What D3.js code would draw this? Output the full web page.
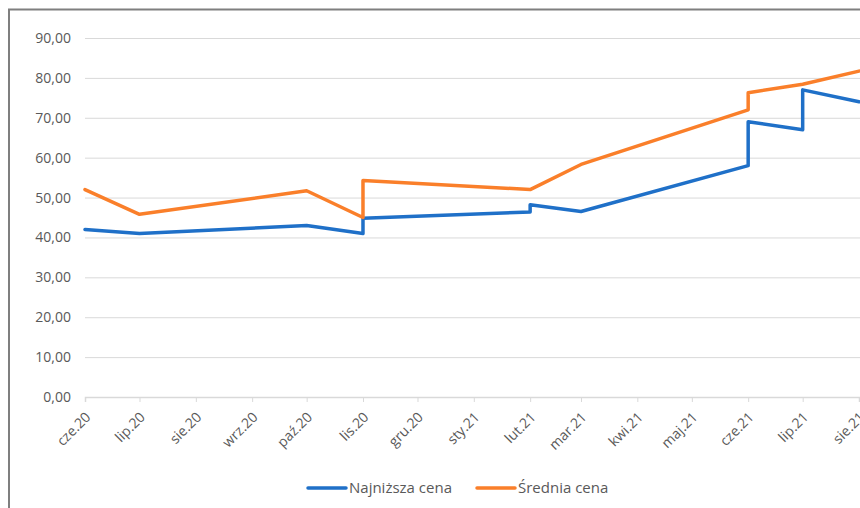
<!DOCTYPE html>
<html>
<head>
<meta charset="utf-8">
<script src="https://cdn.jsdelivr.net/npm/d3@7"></script>
<style>
    body { margin: 0; background: #fff; }
    text { font-family: "Open Sans", sans-serif; }
</style>
</head>
<body>
<div id="chart"></div>
<script>

// DATA
// ================================================================================== //

const monthLabels = ["cze.20", "lip.20", "sie.20", "wrz.20", "paź.20", "lis.20", "gru.20",
    "sty.21", "lut.21", "mar.21", "kwi.21", "maj.21", "cze.21", "lip.21", "sie.21"];
const monthDates = ["2020-06-01", "2020-07-01", "2020-08-01", "2020-09-01", "2020-10-01",
    "2020-11-01", "2020-12-01", "2021-01-01", "2021-02-01", "2021-03-01", "2021-04-01",
    "2021-05-01", "2021-06-01", "2021-07-01", "2021-08-01"];

// Najniższa cena (duplicate dates give the vertical jumps)
const lowDates = ["2020-06-01", "2020-07-01", "2020-10-01", "2020-11-01", "2020-11-01",
    "2021-02-01", "2021-02-01", "2021-03-01", "2021-06-01", "2021-06-01",
    "2021-07-01", "2021-07-01", "2021-08-01"];
const lowValues = [42, 41, 43, 41, 44.8, 46.4, 48.2, 46.5, 58, 69, 67, 77, 74];

// Średnia cena
const avgDates = ["2020-06-01", "2020-07-01", "2020-10-01", "2020-11-01", "2020-11-01",
    "2021-02-01", "2021-03-01", "2021-06-01", "2021-06-01", "2021-07-01", "2021-08-01"];
const avgValues = [52, 45.8, 51.7, 45, 54.3, 52, 58.3, 72, 76.3, 78.4, 81.7];

const yTicks = [0, 10, 20, 30, 40, 50, 60, 70, 80, 90];

const seriesNames = ["Najniższa cena", "Średnia cena"];
const seriesColors = ["#1f70c8", "#fa7f2a"];

// ================================================================================== //

const parse = d3.timeParse("%Y-%m-%d");
const width = 860;
const height = 508;
const margin = { top: 38, right: 1, bottom: 111, left: 85 };

const svg = d3.select("#chart")
    .append("svg")
    .attr("width", width)
    .attr("height", height);

// chart frame (only left and top edges are inside the picture)
svg.append("path")
    .attr("d", `M9,${height} V9.5 H${width}`)
    .attr("fill", "none")
    .attr("stroke", "#7f7f7f")
    .attr("stroke-width", 2);

const x = d3.scaleTime()
    .domain([parse(monthDates[0]), parse(monthDates[monthDates.length - 1])])
    .range([margin.left, width - margin.right]);

const y = d3.scaleLinear()
    .domain([0, 90])
    .range([height - margin.bottom, margin.top]);

const fmt = v => d3.format(".2f")(v).replace(".", ",");

// gridlines + y labels
const yAxis = svg.append("g")
    .attr("transform", `translate(${margin.left},0)`)
    .call(d3.axisLeft(y)
        .tickValues(yTicks)
        .tickSize(-(width - margin.left))
        .tickPadding(14)
        .tickFormat(fmt));
yAxis.select(".domain").remove();
yAxis.selectAll(".tick line").attr("stroke", "#d9d9d9");
yAxis.selectAll("text")
    .attr("fill", "#595959")
    .attr("font-size", 14)
    .attr("font-family", "Open Sans, sans-serif");

// x axis
const xAxis = svg.append("g")
    .attr("transform", `translate(0,${y(0)})`)
    .call(d3.axisBottom(x)
        .tickValues(monthDates.map(parse))
        .tickSize(5)
        .tickFormat((d, i) => monthLabels[i]));
xAxis.select(".domain").attr("stroke", "#d9d9d9").attr("stroke-width", 1.5);
xAxis.selectAll(".tick line").attr("stroke", "#d9d9d9");
xAxis.selectAll("text")
    .attr("fill", "#595959")
    .attr("font-size", 14)
    .attr("font-family", "Open Sans, sans-serif")
    .attr("text-anchor", "end")
    .attr("dy", null)
    .attr("y", null)
    .attr("transform", "translate(6,21) rotate(-45)");

// lines
const line = d3.line()
    .x(d => x(d.date))
    .y(d => y(d.value));

const series = [
    lowDates.map((d, i) => ({ date: parse(d), value: lowValues[i] })),
    avgDates.map((d, i) => ({ date: parse(d), value: avgValues[i] }))
];

// orange drawn on top like the reference
series.forEach((s, i) => {
    svg.append("path")
        .datum(s)
        .attr("d", line)
        .attr("fill", "none")
        .attr("stroke", seriesColors[i])
        .attr("stroke-width", 3.5)
        .attr("stroke-linejoin", "round")
        .attr("stroke-linecap", "round");
});

// legend
const legendX = [308, 477];
const legend = svg.append("g");
seriesNames.forEach((name, i) => {
    legend.append("line")
        .attr("x1", legendX[i])
        .attr("x2", legendX[i] + 38)
        .attr("y1", 488)
        .attr("y2", 488)
        .attr("stroke", seriesColors[i])
        .attr("stroke-width", 3.5)
        .attr("stroke-linecap", "round");
    legend.append("text")
        .attr("x", legendX[i] + 41)
        .attr("y", 488)
        .attr("dy", "0.35em")
        .attr("fill", "#595959")
        .attr("font-size", 15)
        .text(name);
});

</script>
</body>
</html>
